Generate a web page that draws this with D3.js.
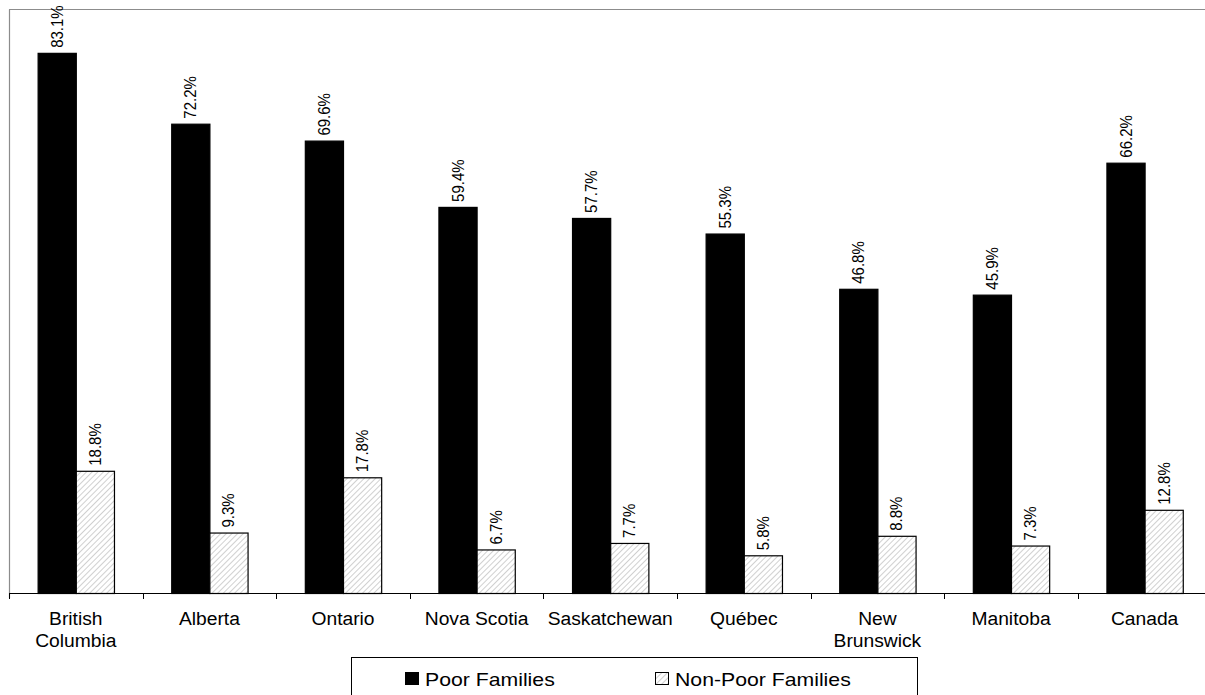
<!DOCTYPE html>
<html>
<head>
<meta charset="utf-8">
<script src="https://cdn.jsdelivr.net/npm/d3@7"></script>
<style>
  html, body { margin: 0; padding: 0; background: #fff; }
  svg { display: block; font-family: "Liberation Sans", Arial, sans-serif; }
</style>
</head>
<body>
<svg id="chart" width="1205" height="695"></svg>
<script>
// Share of families, by province, poor vs. non-poor
const provinces = ["British Columbia", "Alberta", "Ontario", "Nova Scotia", "Saskatchewan",
                   "Québec", "New Brunswick", "Manitoba", "Canada"];
const provinceLines = [["British", "Columbia"], ["Alberta"], ["Ontario"], ["Nova Scotia"],
                       ["Saskatchewan"], ["Québec"], ["New", "Brunswick"], ["Manitoba"], ["Canada"]];
const poorFamilies = [83.1, 72.2, 69.6, 59.4, 57.7, 55.3, 46.8, 45.9, 66.2];
const nonPoorFamilies = [18.8, 9.3, 17.8, 6.7, 7.7, 5.8, 8.8, 7.3, 12.8];
const seriesNames = ["Poor Families", "Non-Poor Families"];

const svg = d3.select("#chart");
const plot = { left: 9, top: 8, right: 1211.4, bottom: 593 };

const defs = svg.append("defs");
const hatch = defs.append("pattern")
  .attr("id", "hatch")
  .attr("patternUnits", "userSpaceOnUse")
  .attr("width", 4).attr("height", 4)
  .attr("patternTransform", "rotate(45)");
hatch.append("rect").attr("width", 4).attr("height", 4).attr("fill", "#fff");
hatch.append("line").attr("x1", 0).attr("y1", 0).attr("x2", 0).attr("y2", 4)
  .attr("stroke", "#c4c4c4").attr("stroke-width", 1.6);

const x = d3.scaleBand().domain(provinces).range([plot.left, plot.right]).paddingInner(0).paddingOuter(0);
const xs = d3.scaleBand().domain(seriesNames).range([0, x.bandwidth()]).paddingInner(0).paddingOuter(0.75);
const y = d3.scaleLinear().domain([0, 90]).range([plot.bottom, plot.top]);

// plot frame (top and left edges)
svg.append("line").attr("x1", plot.left).attr("x2", 1205).attr("y1", 9.5).attr("y2", 9.5)
  .attr("stroke", "#8c8c8c").attr("stroke-width", 1.2);
svg.append("line").attr("x1", 9.5).attr("x2", 9.5).attr("y1", 9.5).attr("y2", 598)
  .attr("stroke", "#8c8c8c").attr("stroke-width", 1.2);

const rows = provinces.map((p, i) => ({ p, vals: [poorFamilies[i], nonPoorFamilies[i]] }));

const groups = svg.append("g").selectAll("g").data(rows).join("g")
  .attr("transform", d => `translate(${x(d.p)},0)`);

groups.selectAll("rect").data(d => d.vals.map((v, j) => ({ s: seriesNames[j], v })))
  .join("rect")
  .attr("x", d => xs(d.s) + 0.5)
  .attr("width", xs.bandwidth())
  .attr("y", d => y(d.v) + 0.5)
  .attr("height", d => y(0) - y(d.v))
  .attr("fill", d => d.s === seriesNames[0] ? "#000" : "url(#hatch)")
  .attr("stroke", "#000").attr("stroke-width", 1.2);

// value labels, rotated
groups.selectAll("text.val").data(d => d.vals.map((v, j) => ({ s: seriesNames[j], v })))
  .join("text").attr("class", "val")
  .attr("transform", d => `translate(${xs(d.s) + xs.bandwidth() / 2 + 6},${y(d.v) - 5}) scale(1.08,1) rotate(-90)`)
  .attr("font-size", 15).attr("fill", "#000")
  .text(d => d.v.toFixed(1) + "%");

// category axis
const axis = svg.append("g").attr("transform", `translate(0,${plot.bottom})`);
axis.append("line").attr("x1", plot.left).attr("x2", 1205).attr("y1", 0.5).attr("y2", 0.5)
  .attr("stroke", "#000").attr("stroke-width", 1.2);
axis.selectAll("line.tick").data(provinces.concat(["_end"])).join("line").attr("class", "tick")
  .attr("x1", (d, i) => Math.round(plot.left + i * x.step()) + 0.5)
  .attr("x2", (d, i) => Math.round(plot.left + i * x.step()) + 0.5)
  .attr("y1", 0).attr("y2", 6).attr("stroke", "#000").attr("stroke-width", 1);

const cat = axis.selectAll("g.cat").data(provinces).join("g").attr("class", "cat")
  .attr("transform", d => `translate(${x(d) + x.bandwidth() / 2},32) scale(1.07,1)`);
cat.each(function(d, i) {
  const t = d3.select(this).append("text").attr("text-anchor", "middle").attr("font-size", 18).attr("fill", "#000");
  provinceLines[i].forEach((ln, k) => t.append("tspan").attr("x", 0).attr("y", k * 22.5).text(ln));
});

// legend
const legend = svg.append("g");
legend.append("rect").attr("x", 351.5).attr("y", 657.5).attr("width", 566).attr("height", 50)
  .attr("fill", "#fff").attr("stroke", "#000").attr("stroke-width", 1);
const legendX = [405, 655];
const items = legend.selectAll("g.item").data(seriesNames).join("g").attr("class", "item")
  .attr("transform", (d, i) => `translate(${legendX[i]},0)`);
items.append("rect").attr("x", 0.5).attr("y", 672.5).attr("width", 13).attr("height", 12)
  .attr("fill", (d, i) => i === 0 ? "#000" : "url(#hatch)")
  .attr("stroke", "#000").attr("stroke-width", 1);
items.append("text").attr("transform", "translate(20,686) scale(1.18,1)")
  .attr("font-size", 18).attr("fill", "#000").text(d => d);
</script>
</body>
</html>
